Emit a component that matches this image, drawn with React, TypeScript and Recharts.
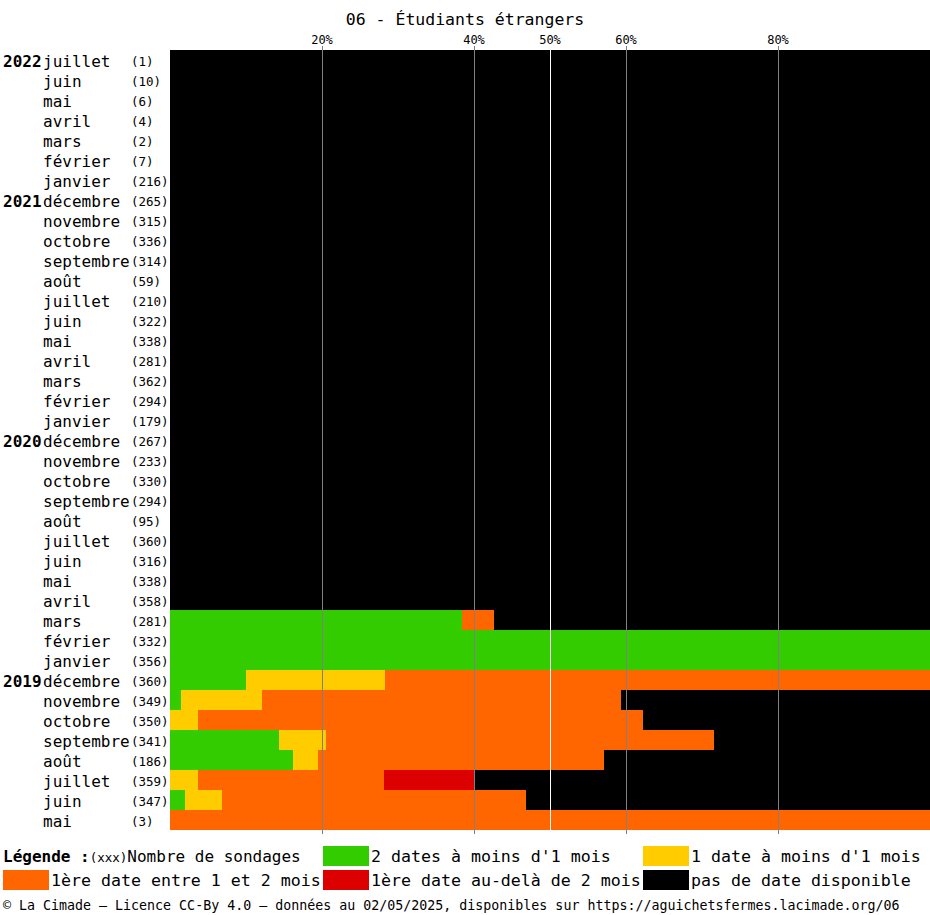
import { BarChart, Bar, XAxis, YAxis, ReferenceLine } from "recharts"

const months = [
  "juillet", "juin", "mai", "avril", "mars", "février", "janvier",
  "décembre", "novembre", "octobre", "septembre", "août", "juillet", "juin", "mai", "avril", "mars", "février", "janvier",
  "décembre", "novembre", "octobre", "septembre", "août", "juillet", "juin", "mai", "avril", "mars", "février", "janvier",
  "décembre", "novembre", "octobre", "septembre", "août", "juillet", "juin", "mai",
]
const years = [
  "2022", "", "", "", "", "", "",
  "2021", "", "", "", "", "", "", "", "", "", "", "",
  "2020", "", "", "", "", "", "", "", "", "", "", "",
  "2019", "", "", "", "", "", "", "",
]
const counts = [
  1, 10, 6, 4, 2, 7, 216,
  265, 315, 336, 314, 59, 210, 322, 338, 281, 362, 294, 179,
  267, 233, 330, 294, 95, 360, 316, 338, 358, 281, 332, 356,
  360, 349, 350, 341, 186, 359, 347, 3,
]

// % of slots per category
const green = [
  0, 0, 0, 0, 0, 0, 0,
  0, 0, 0, 0, 0, 0, 0, 0, 0, 0, 0, 0,
  0, 0, 0, 0, 0, 0, 0, 0, 0, 38.4, 100, 100,
  10.0, 1.4, 0, 14.3, 16.2, 0, 2.0, 0,
]
const yellow = [
  0, 0, 0, 0, 0, 0, 0,
  0, 0, 0, 0, 0, 0, 0, 0, 0, 0, 0, 0,
  0, 0, 0, 0, 0, 0, 0, 0, 0, 0, 0, 0,
  18.3, 10.7, 3.7, 6.2, 3.3, 3.7, 4.9, 0,
]
const orange = [
  0, 0, 0, 0, 0, 0, 0,
  0, 0, 0, 0, 0, 0, 0, 0, 0, 0, 0, 0,
  0, 0, 0, 0, 0, 0, 0, 0, 0, 4.2, 0, 0,
  71.7, 47.2, 58.6, 51.1, 37.6, 24.5, 40.0, 100,
]
const red = [
  0, 0, 0, 0, 0, 0, 0,
  0, 0, 0, 0, 0, 0, 0, 0, 0, 0, 0, 0,
  0, 0, 0, 0, 0, 0, 0, 0, 0, 0, 0, 0,
  0, 0, 0, 0, 0, 11.8, 0, 0,
]
const black = [
  100, 100, 100, 100, 100, 100, 100,
  100, 100, 100, 100, 100, 100, 100, 100, 100, 100, 100, 100,
  100, 100, 100, 100, 100, 100, 100, 100, 100, 57.4, 0, 0,
  0, 40.7, 37.7, 28.4, 42.9, 60.0, 53.1, 0,
]

const gridTicks = [20, 40, 50, 60, 80]

const data = months.map((m, i) => ({
  id: String(i),
  green: green[i],
  yellow: yellow[i],
  orange: orange[i],
  red: red[i],
  black: black[i],
}))

const MONO = "'DejaVu Sans Mono', monospace"

function RowLabel(props: any) {
  const i = Number(props.payload.value)
  const y = props.y + 6.5
  return (
    <g fontFamily={MONO} fill="#000">
      {years[i] && (
        <text x={3} y={y} fontSize={16} fontWeight="bold">{years[i]}</text>
      )}
      <text x={43} y={y} fontSize={16}>{months[i]}</text>
      <text x={131} y={y - 1} fontSize={12.5}>({counts[i]})</text>
    </g>
  )
}

function TopTick(props: any) {
  return (
    <text x={props.x} y={44} textAnchor="middle" fontFamily={MONO} fontSize={12} fill="#000">
      {props.payload.value}%
    </text>
  )
}

function GridLine(props: any) {
  const white = props.stroke === "#ffffff"
  return (
    <line
      x1={props.x1}
      x2={props.x2}
      y1={white ? props.y1 : props.y1 - 4}
      y2={white ? props.y2 : props.y2 + 4}
      stroke={props.stroke}
      strokeWidth={1}
      shapeRendering="crispEdges"
    />
  )
}

const legendItems = [
  { color: "#33cc00", label: "2 dates à moins d'1 mois", x: 323, row: 0 },
  { color: "#ffcc00", label: "1 date à moins d'1 mois", x: 643, row: 0 },
  { color: "#ff6600", label: "1ère date entre 1 et 2 mois", x: 3, row: 1 },
  { color: "#dd0000", label: "1ère date au-delà de 2 mois", x: 323, row: 1 },
  { color: "#000000", label: "pas de date disponible", x: 643, row: 1 },
]

export default function App() {
  return (
    <div style={{ position: "absolute", left: 0, top: 0, width: 930, height: 915, background: "#fff" }}>
      <BarChart
        width={930}
        height={915}
        data={data}
        layout="vertical"
        margin={{ top: 20, right: 0, bottom: 85, left: 0 }}
        barCategoryGap={0}
      >
        <XAxis
          type="number"
          orientation="top"
          domain={[0, 100]}
          ticks={gridTicks}
          height={30}
          axisLine={false}
          tickLine={false}
          tick={<TopTick />}
          allowDataOverflow
        />
        <YAxis
          type="category"
          dataKey="id"
          width={170}
          axisLine={false}
          tickLine={false}
          interval={0}
          tick={<RowLabel />}
        />
        <Bar dataKey="green" stackId="a" fill="#33cc00" isAnimationActive={false} shapeRendering="crispEdges" />
        <Bar dataKey="yellow" stackId="a" fill="#ffcc00" isAnimationActive={false} shapeRendering="crispEdges" />
        <Bar dataKey="orange" stackId="a" fill="#ff6600" isAnimationActive={false} shapeRendering="crispEdges" />
        <Bar dataKey="red" stackId="a" fill="#dd0000" isAnimationActive={false} shapeRendering="crispEdges" />
        <Bar dataKey="black" stackId="a" fill="#000000" isAnimationActive={false} shapeRendering="crispEdges" />
        {gridTicks.map((t) => (
          <ReferenceLine
            key={t}
            x={t}
            stroke={t === 50 ? "#ffffff" : "#808080"}
            ifOverflow="visible"
            shape={(p: any) => <GridLine {...p} />}
          />
        ))}
      </BarChart>
      <svg
        width={930}
        height={915}
        style={{ position: "absolute", left: 0, top: 0, pointerEvents: "none" }}
        fontFamily={MONO}
      >
        <text x={465} y={25} textAnchor="middle" fontSize={16.5} fill="#000">
          06 - Étudiants étrangers
        </text>
        <text x={3} y={862} fontSize={16} fill="#000">
          <tspan fontWeight="bold">Légende :</tspan>
          <tspan fontSize={12.5}>(xxx)</tspan>
          <tspan>Nombre de sondages</tspan>
        </text>
        {legendItems.map((it) => (
          <g key={it.label}>
            <rect x={it.x} y={846 + it.row * 24} width={46} height={20} fill={it.color} />
            <text x={it.x + 48} y={862 + it.row * 24} fontSize={16.6} fill="#000">
              {it.label}
            </text>
          </g>
        ))}
        <text x={3} y={910} fontSize={13.3} fill="#000">
          © La Cimade – Licence CC-By 4.0 – données au 02/05/2025, disponibles sur https://aguichetsfermes.lacimade.org/06
        </text>
      </svg>
    </div>
  )
}
